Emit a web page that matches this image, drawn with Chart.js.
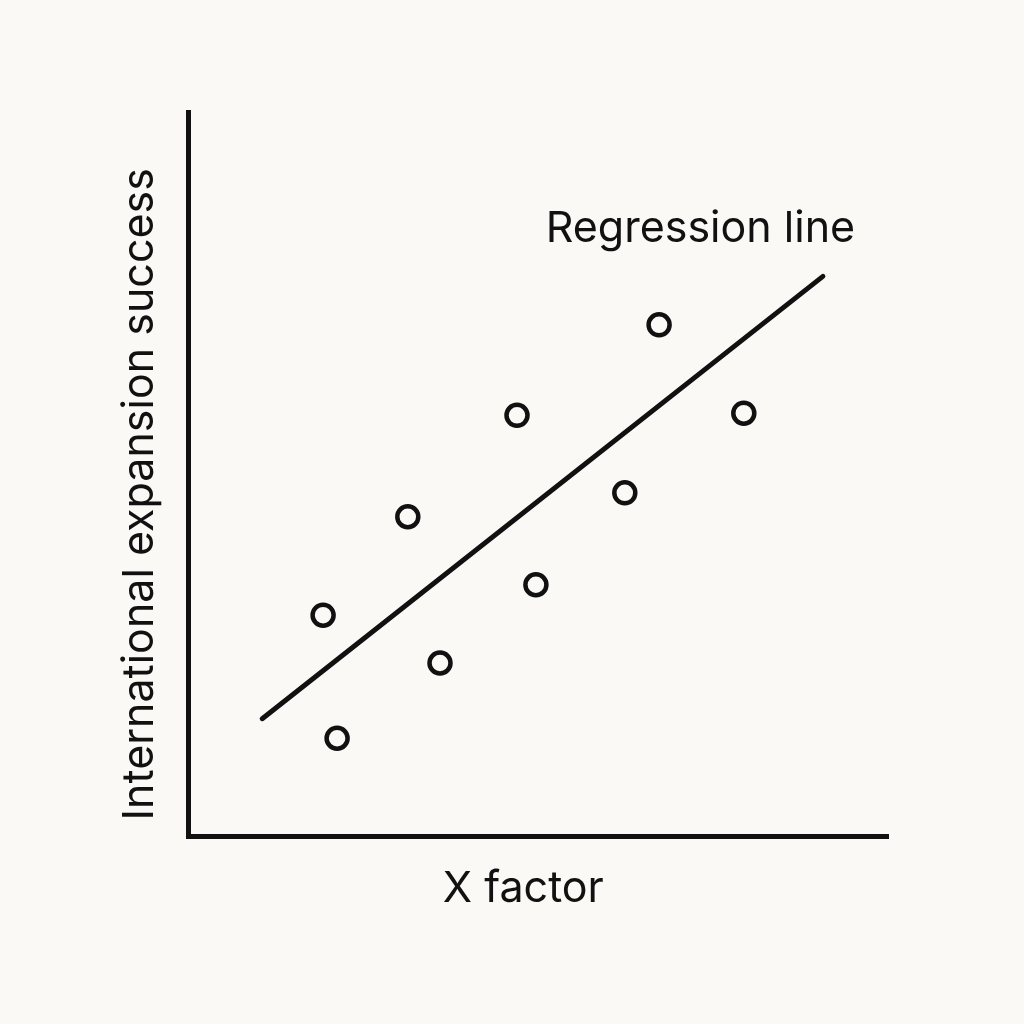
<!DOCTYPE html>
<html lang="en">
<head>
    <meta charset="UTF-8">
    <title>Regression</title>
    <script src="https://cdn.jsdelivr.net/npm/chart.js"></script>
    <style>
        html, body {
            margin: 0;
            padding: 0;
            background: #faf9f6;
        }
        #wrap {
            width: 1024px;
            height: 1024px;
        }
    </style>
</head>
<body>
    <div id="wrap"><canvas id="chart" width="1024" height="1024"></canvas></div>

    <script>
        // наблюдения (в условных единицах, оси от 0 до 10)
        const pointsX = [1.93, 2.13, 3.14, 3.60, 4.70, 4.97, 6.24, 6.73, 7.94];
        const pointsY = [3.05, 1.35, 4.41, 2.39, 5.81, 3.47, 4.74, 7.06, 5.84];
        // концы линии регрессии
        const lineX = [1.06, 9.07];
        const lineY = [1.62, 7.73];
        const lineLabel = "Regression line";
        const xTitle = "X factor";
        const yTitle = "International expansion success";

        const ink = "#111111";
        const fontFamily = "Inter, 'Noto Sans', sans-serif";

        // подписи: линия регрессии и названия осей (они в оригинале чуть смещены от центра осей)
        const labelPlugin = {
            id: "labels",
            afterDatasetsDraw(chart) {
                const ctx = chart.ctx;
                const xs = chart.scales.x;
                const ys = chart.scales.y;
                ctx.save();
                ctx.font = "43px " + fontFamily;
                ctx.fillStyle = ink;

                ctx.textAlign = "right";
                ctx.textBaseline = "alphabetic";
                ctx.fillText(lineLabel, xs.getPixelForValue(9.53), ys.getPixelForValue(8.2));

                ctx.textAlign = "center";
                ctx.fillText(xTitle, xs.getPixelForValue(4.79), chart.chartArea.bottom + 66);

                ctx.translate(chart.chartArea.left - 48, ys.getPixelForValue(4.72));
                ctx.rotate(-Math.PI / 2);
                ctx.textBaseline = "middle";
                ctx.fillText(yTitle, 0, 0);
                ctx.restore();
            }
        };

        new Chart(document.getElementById("chart"), {
            type: "scatter",
            data: {
                datasets: [
                    {
                        label: "points",
                        data: pointsX.map((x, i) => ({x: x, y: pointsY[i]})),
                        pointRadius: 10.5,
                        pointBorderWidth: 4.5,
                        pointBorderColor: ink,
                        pointBackgroundColor: "#faf9f6"
                    },
                    {
                        label: lineLabel,
                        type: "line",
                        data: lineX.map((x, i) => ({x: x, y: lineY[i]})),
                        borderColor: ink,
                        borderWidth: 5,
                        borderCapStyle: "round",
                        pointRadius: 0,
                        order: 1
                    }
                ]
            },
            options: {
                responsive: false,
                animation: false,
                layout: {
                    padding: {left: 188, right: 136, top: 112, bottom: 188}
                },
                plugins: {
                    legend: {display: false},
                    tooltip: {enabled: false}
                },
                scales: {
                    x: {
                        type: "linear",
                        min: 0,
                        max: 10,
                        grid: {display: false, drawTicks: false},
                        ticks: {display: false},
                        border: {display: true, color: ink, width: 5}
                    },
                    y: {
                        type: "linear",
                        min: 0,
                        max: 10,
                        grid: {display: false, drawTicks: false},
                        ticks: {display: false},
                        border: {display: true, color: ink, width: 5}
                    }
                }
            },
            plugins: [labelPlugin]
        });
    </script>
</body>
</html>
